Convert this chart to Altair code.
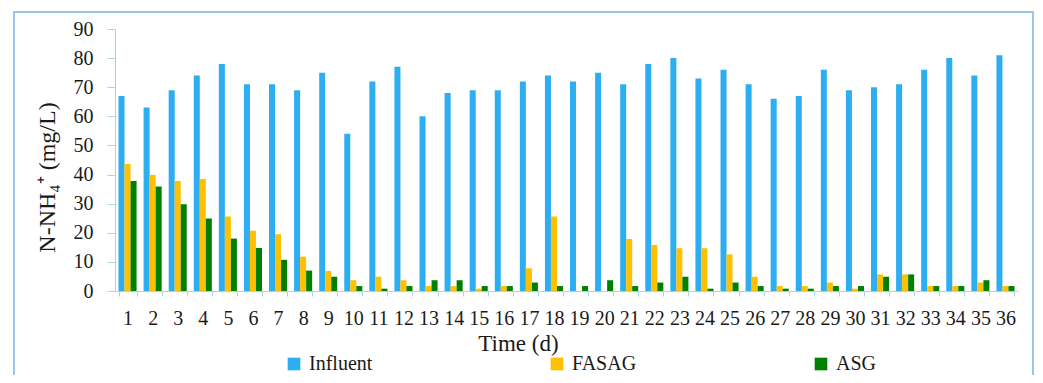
import altair as alt
import pandas as pd

days = list(range(1, 37))
influent = [67, 63, 69, 74, 78, 71, 71, 69, 75, 54, 72, 77, 60, 68, 69, 69, 72, 74,
            72, 75, 71, 78, 80, 73, 76, 71, 66, 67, 76, 69, 70, 71, 76, 80, 74, 81]
fasag = [43.6, 39.9, 37.8, 38.5, 25.6, 20.7, 19.5, 11.8, 6.9, 3.7, 4.9, 3.7, 1.7, 1.7,
         0.8, 1.7, 7.8, 25.6, 0, 0, 17.9, 15.8, 14.7, 14.7, 12.6, 4.9, 1.7, 1.7, 2.9,
         0.8, 5.7, 5.7, 1.7, 1.7, 2.9, 1.7]
asg = [37.8, 35.9, 29.8, 24.9, 18.0, 14.8, 10.7, 7.0, 4.9, 1.7, 0.8, 1.7, 3.7, 3.7,
       1.7, 1.7, 2.9, 1.7, 1.7, 3.7, 1.7, 2.9, 4.9, 0.8, 2.9, 1.7, 0.8, 0.8, 1.7, 1.7,
       4.9, 5.7, 1.7, 1.7, 3.7, 1.7]
series = ["Influent", "FASAG", "ASG"]
colors = ["#2DAEF0", "#FFC000", "#008000"]
y_ticks = [0, 10, 20, 30, 40, 50, 60, 70, 80, 90]

rows = []
for i, d in enumerate(days):
    for name, vals in zip(series, [influent, fasag, asg]):
        rows.append({"day": d, "series": name, "value": vals[i]})
df = pd.DataFrame(rows)

axis_col = "#A9D4E6"
font = "Liberation Serif"

bars = alt.Chart(df).mark_bar().encode(
    x=alt.X("day:O", scale=alt.Scale(paddingInner=0.28, paddingOuter=0.14),
            axis=alt.Axis(title="Time (d)", labelAngle=0, tickBand="extent",
                          tickSize=5, labelPadding=12, domainColor=axis_col,
                          tickColor=axis_col, labelFontSize=20, titleFontSize=23,
                          titleFontWeight="normal", titleX=403, titleY=52,
                          titleBaseline="middle", titleAlign="center")),
    xOffset=alt.XOffset("series:N", sort=series, scale=alt.Scale(paddingInner=0, paddingOuter=0)),
    y=alt.Y("value:Q", scale=alt.Scale(domain=[0, 90], nice=False),
            axis=alt.Axis(title="N-NH₄⁺ (mg/L)", values=y_ticks, grid=False,
                          tickSize=8, labelPadding=14, domainColor=axis_col,
                          tickColor=axis_col, labelFontSize=20, titleFontSize=24,
                          titleFontWeight="normal", titleX=-68, titleY=148,
                          titleAlign="center", titleBaseline="middle")),
    color=alt.Color("series:N", sort=series,
                    scale=alt.Scale(domain=series, range=colors),
                    legend=alt.Legend(title=None, orient="none", direction="horizontal",
                                      legendX=169, legendY=325, columnPadding=174,
                                      symbolType="square", symbolSize=160,
                                      symbolStrokeWidth=0, labelFontSize=20,
                                      labelFont=font, labelColor="#1a1a1a",
                                      labelOffset=5, padding=0)),
)

frame = alt.Chart(pd.DataFrame({"a": [0]})).mark_rect(
    filled=False, stroke="#9DC3E6", strokeWidth=2
).encode(x=alt.value(-101), x2=alt.value(918), y=alt.value(-17), y2=alt.value(400))

chart = alt.layer(bars, frame).properties(
    width=903, height=262,
    autosize=alt.AutoSizeParams(type="none"),
    padding={"left": 107, "top": 21, "right": 17, "bottom": 84},
).configure_view(stroke=None).configure_axis(
    labelFont=font, titleFont=font, labelColor="#1a1a1a", titleColor="#1a1a1a"
)

chart.save("out.html", embed_options={"renderer": "svg", "actions": False})
